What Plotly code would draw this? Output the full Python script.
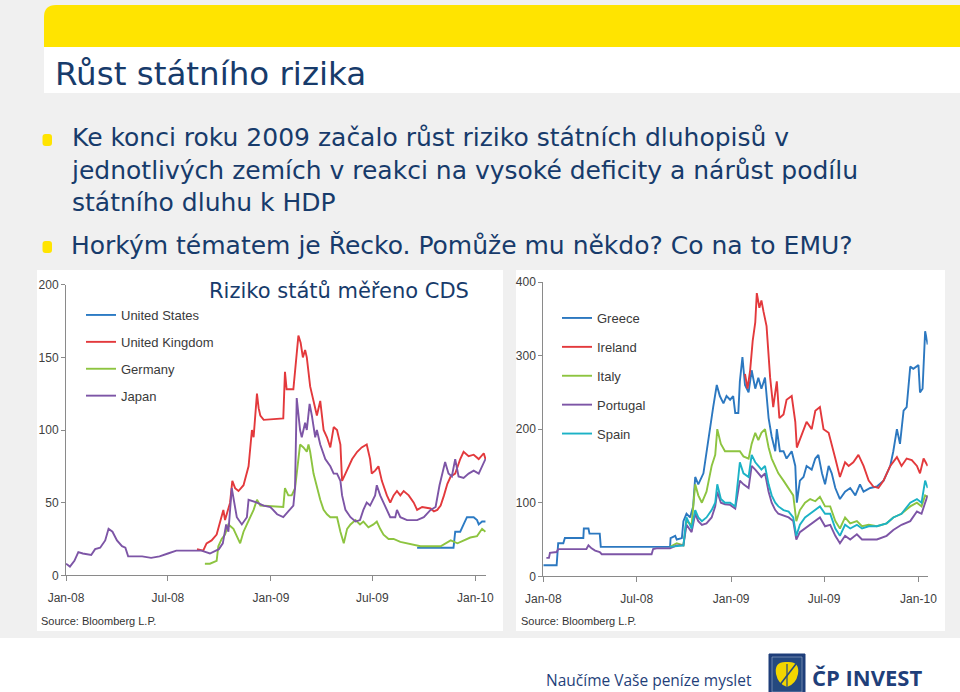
import plotly.graph_objects as go

W, H = 960, 692


def px(x):
    return x / W


def py(y):
    return 1 - y / H


# ---------------- data ----------------
TICK_DATES = ["2008-01-01", "2008-07-01", "2009-01-01", "2009-07-01", "2010-01-01"]
TICK_TEXT = ["Jan-08", "Jul-08", "Jan-09", "Jul-09", "Jan-10"]
LEFT_Y_TICKS = [0, 50, 100, 150, 200]
RIGHT_Y_TICKS = [0, 100, 200, 300, 400]

us_dates = ["2009-09-19", "2009-11-23", "2009-11-26", "2009-12-05", "2009-12-11",
            "2009-12-17", "2009-12-29", "2010-01-04", "2010-01-07", "2010-01-13",
            "2010-01-19"]
us_vals = [19, 19, 30, 30, 35,
           40, 40, 38, 35, 37,
           37]

uk_dates = ["2008-08-22", "2008-09-02", "2008-09-08", "2008-09-17", "2008-09-26",
            "2008-10-05", "2008-10-08", "2008-10-11", "2008-10-17", "2008-10-20",
            "2008-10-24", "2008-10-29", "2008-11-04", "2008-11-13", "2008-11-22",
            "2008-11-28", "2008-12-01", "2008-12-04", "2008-12-07", "2008-12-10",
            "2008-12-13", "2008-12-19", "2009-01-12", "2009-01-23", "2009-01-26",
            "2009-01-29", "2009-02-10", "2009-02-16", "2009-02-19", "2009-02-23",
            "2009-02-27", "2009-03-03", "2009-03-06", "2009-03-12", "2009-03-18",
            "2009-03-24", "2009-03-30", "2009-04-05", "2009-04-11", "2009-04-17",
            "2009-04-23", "2009-04-29", "2009-05-05", "2009-05-08", "2009-05-14",
            "2009-05-20", "2009-05-26", "2009-06-04", "2009-06-12", "2009-06-21",
            "2009-06-24", "2009-06-27", "2009-06-30", "2009-07-06", "2009-07-12",
            "2009-07-18", "2009-07-27", "2009-08-02", "2009-08-08", "2009-08-14",
            "2009-08-20", "2009-08-26", "2009-09-04", "2009-09-13", "2009-09-19",
            "2009-09-28", "2009-10-13", "2009-10-19", "2009-10-25", "2009-10-31",
            "2009-11-06", "2009-11-12", "2009-11-18", "2009-11-26", "2009-12-05",
            "2009-12-11", "2009-12-20", "2009-12-29", "2010-01-07", "2010-01-16",
            "2010-01-19"]
uk_vals = [18, 17, 22, 24, 28,
           40, 45, 38, 47, 50,
           65, 60, 58, 62, 75,
           100, 95, 110, 125, 115,
           110, 107, 108, 108, 140,
           128, 128, 150, 165, 160,
           150, 155, 150, 130, 120,
           110, 120, 100, 95, 88,
           102, 100, 90, 65, 70,
           75, 80, 85, 88, 90,
           85, 80, 70, 72, 75,
           65, 55, 50, 55, 58,
           55, 58, 55, 50, 45,
           47, 46, 44, 45, 48,
           55, 63, 68, 70, 80,
           85, 82, 83, 80, 84,
           80]

de_dates = ["2008-09-05", "2008-09-14", "2008-09-26", "2008-09-29", "2008-10-05",
            "2008-10-11", "2008-10-17", "2008-10-26", "2008-11-07", "2008-11-13",
            "2008-11-19", "2008-11-25", "2008-12-01", "2008-12-07", "2008-12-13",
            "2009-01-23", "2009-01-26", "2009-02-01", "2009-02-07", "2009-02-13",
            "2009-02-19", "2009-02-22", "2009-02-28", "2009-03-06", "2009-03-09",
            "2009-03-12", "2009-03-18", "2009-03-24", "2009-03-30", "2009-04-05",
            "2009-04-11", "2009-04-17", "2009-04-29", "2009-05-05", "2009-05-11",
            "2009-05-17", "2009-05-23", "2009-06-01", "2009-06-09", "2009-06-15",
            "2009-06-24", "2009-07-03", "2009-07-09", "2009-07-15", "2009-07-21",
            "2009-07-30", "2009-08-08", "2009-08-20", "2009-09-01", "2009-09-13",
            "2009-09-25", "2009-10-31", "2009-11-08", "2009-11-18", "2009-11-30",
            "2009-12-11", "2009-12-23", "2010-01-04", "2010-01-13", "2010-01-19"]
de_vals = [8, 8, 10, 20, 25,
           28, 35, 32, 22, 30,
           35, 40, 45, 52, 48,
           47, 60, 55, 55, 60,
           80, 90, 88, 85, 90,
           85, 70, 60, 52, 45,
           42, 40, 40, 30, 22,
           32, 35, 38, 35, 37,
           33, 35, 37, 32, 28,
           25, 25, 23, 22, 21,
           20, 20, 22, 24, 22,
           24, 26, 27, 32, 30]

jp_dates = ["2008-01-01", "2008-01-08", "2008-01-16", "2008-01-23", "2008-01-31",
            "2008-02-15", "2008-02-22", "2008-03-02", "2008-03-11", "2008-03-17",
            "2008-03-24", "2008-04-01", "2008-04-10", "2008-04-16", "2008-04-21",
            "2008-05-02", "2008-05-16", "2008-06-01", "2008-06-16", "2008-07-01",
            "2008-07-16", "2008-07-31", "2008-08-15", "2008-08-30", "2008-09-14",
            "2008-09-30", "2008-10-07", "2008-10-13", "2008-10-17", "2008-10-23",
            "2008-11-01", "2008-11-10", "2008-11-19", "2008-11-22", "2008-12-07",
            "2008-12-19", "2008-12-31", "2009-01-12", "2009-01-23", "2009-02-04",
            "2009-02-10", "2009-02-13", "2009-02-16", "2009-02-22", "2009-02-25",
            "2009-03-03", "2009-03-06", "2009-03-11", "2009-03-15", "2009-03-21",
            "2009-03-24", "2009-03-30", "2009-04-08", "2009-04-17", "2009-04-23",
            "2009-04-29", "2009-05-05", "2009-05-08", "2009-05-14", "2009-05-23",
            "2009-06-01", "2009-06-09", "2009-06-15", "2009-06-21", "2009-06-27",
            "2009-07-06", "2009-07-09", "2009-07-15", "2009-07-21", "2009-07-27",
            "2009-08-02", "2009-08-11", "2009-08-14", "2009-08-20", "2009-09-01",
            "2009-09-19", "2009-10-01", "2009-10-13", "2009-10-22", "2009-10-29",
            "2009-11-08", "2009-11-14", "2009-11-20", "2009-11-26", "2009-12-02",
            "2009-12-11", "2009-12-20", "2009-12-29", "2010-01-07", "2010-01-19"]
jp_vals = [8, 6, 10, 16, 15,
           14, 18, 19, 24, 32,
           30, 24, 20, 19, 13,
           13, 13, 12, 13, 15,
           17, 17, 17, 17, 15,
           18, 22, 35, 30, 60,
           40, 35, 40, 52, 50,
           48, 47, 42, 40, 45,
           48, 60, 122, 100, 95,
           105, 100, 118, 110, 95,
           100, 90, 80, 75, 70,
           70, 65, 55, 45, 40,
           37, 38, 45, 50, 48,
           55, 62, 55, 50, 45,
           40, 40, 45, 40, 38,
           38, 40, 45, 47, 62,
           78, 70, 68, 80, 68,
           67, 70, 72, 70, 80]

gr_dates = ["2008-01-01", "2008-01-27", "2008-01-30", "2008-02-09", "2008-02-12",
            "2008-03-19", "2008-03-20", "2008-03-29", "2008-03-31", "2008-04-20",
            "2008-04-22", "2008-09-04", "2008-09-05", "2008-09-14", "2008-09-17",
            "2008-09-27", "2008-09-30", "2008-10-06", "2008-10-13", "2008-10-19",
            "2008-10-23", "2008-10-29", "2008-11-08", "2008-11-14", "2008-11-21",
            "2008-11-27", "2008-12-04", "2008-12-10", "2008-12-17", "2008-12-23",
            "2008-12-30", "2009-01-05", "2009-01-09", "2009-01-15", "2009-01-18",
            "2009-01-23", "2009-01-28", "2009-02-04", "2009-02-10", "2009-02-17",
            "2009-02-23", "2009-03-01", "2009-03-08", "2009-03-15", "2009-03-21",
            "2009-03-28", "2009-03-31", "2009-04-06", "2009-04-13", "2009-04-19",
            "2009-04-29", "2009-05-06", "2009-05-09", "2009-05-15", "2009-05-22",
            "2009-05-28", "2009-06-07", "2009-06-14", "2009-06-20", "2009-06-27",
            "2009-07-03", "2009-07-10", "2009-07-16", "2009-07-23", "2009-08-01",
            "2009-08-11", "2009-08-21", "2009-08-31", "2009-09-09", "2009-09-16",
            "2009-09-29", "2009-10-12", "2009-10-25", "2009-11-07", "2009-11-13",
            "2009-11-20", "2009-11-26", "2009-12-03", "2009-12-09", "2009-12-16",
            "2009-12-22", "2010-01-01", "2010-01-04", "2010-01-09", "2010-01-14",
            "2010-01-19"]
gr_vals = [15, 15, 45, 45, 52,
           52, 65, 65, 58, 58,
           40, 40, 52, 55, 50,
           52, 75, 85, 80, 95,
           135, 125, 140, 170, 200,
           230, 260, 245, 235, 245,
           240, 245, 222, 222, 265,
           298, 260, 250, 280, 255,
           270, 255, 270, 215, 190,
           170, 200, 170, 170, 160,
           170, 150, 100, 130, 135,
           150, 145, 160, 165, 140,
           125, 150, 140, 120, 105,
           115, 120, 110, 125, 115,
           120, 122, 130, 150, 170,
           200, 180, 225, 230, 285,
           282, 287, 250, 255, 333,
           315]

ie_dates = ["2009-01-28", "2009-02-02", "2009-02-07", "2009-02-12", "2009-02-17",
            "2009-02-20", "2009-02-25", "2009-03-01", "2009-03-05", "2009-03-11",
            "2009-03-18", "2009-03-24", "2009-03-31", "2009-04-05", "2009-04-13",
            "2009-04-19", "2009-04-29", "2009-05-06", "2009-05-09", "2009-05-19",
            "2009-05-28", "2009-06-07", "2009-06-14", "2009-06-23", "2009-06-30",
            "2009-07-10", "2009-07-16", "2009-07-23", "2009-08-01", "2009-08-11",
            "2009-08-18", "2009-08-27", "2009-09-06", "2009-09-16", "2009-09-26",
            "2009-10-05", "2009-10-15", "2009-10-25", "2009-11-07", "2009-11-20",
            "2009-11-29", "2009-12-09", "2009-12-19", "2009-12-29", "2010-01-04",
            "2010-01-11", "2010-01-19"]
ie_vals = [275, 255, 280, 320, 345,
           385, 365, 375, 360, 340,
           270, 230, 265, 215, 220,
           240, 245, 210, 175, 195,
           210, 200, 225, 230, 200,
           195, 180, 160, 135, 155,
           150, 155, 165, 150, 130,
           122, 120, 130, 150, 162,
           150, 160, 158, 150, 140,
           160, 150]

it_dates = ["2008-09-04", "2008-09-17", "2008-09-30", "2008-10-06", "2008-10-16",
            "2008-10-23", "2008-10-29", "2008-11-05", "2008-11-14", "2008-11-24",
            "2008-12-01", "2008-12-05", "2008-12-12", "2008-12-20", "2008-12-30",
            "2009-01-18", "2009-01-25", "2009-02-04", "2009-02-10", "2009-02-17",
            "2009-02-23", "2009-03-01", "2009-03-08", "2009-03-15", "2009-03-21",
            "2009-03-28", "2009-04-03", "2009-04-13", "2009-04-23", "2009-05-02",
            "2009-05-08", "2009-05-15", "2009-05-25", "2009-06-04", "2009-06-14",
            "2009-06-23", "2009-07-03", "2009-07-13", "2009-07-23", "2009-08-01",
            "2009-08-11", "2009-08-21", "2009-09-03", "2009-09-13", "2009-09-26",
            "2009-10-12", "2009-10-31", "2009-11-13", "2009-11-29", "2009-12-16",
            "2009-12-29", "2010-01-07", "2010-01-14", "2010-01-19"]
it_vals = [40, 45, 42, 75, 70,
           125, 110, 100, 115, 150,
           165, 200, 180, 170, 170,
           170, 163, 160, 180, 195,
           185, 195, 200, 175, 160,
           150, 140, 130, 120, 110,
           75, 90, 100, 105, 102,
           108, 95, 95, 75, 65,
           80, 72, 75, 68, 70,
           68, 72, 80, 85, 95,
           100, 95, 110, 108]

pt_dates = ["2008-01-07", "2008-01-12", "2008-01-14", "2008-01-27", "2008-01-30",
            "2008-03-25", "2008-03-29", "2008-04-04", "2008-04-11", "2008-04-20",
            "2008-04-24", "2008-07-30", "2008-08-02", "2008-08-09", "2008-09-04",
            "2008-09-17", "2008-09-30", "2008-10-06", "2008-10-16", "2008-10-23",
            "2008-10-29", "2008-11-05", "2008-11-14", "2008-11-24", "2008-12-01",
            "2008-12-05", "2008-12-12", "2008-12-20", "2008-12-30", "2009-01-09",
            "2009-01-18", "2009-01-25", "2009-02-04", "2009-02-10", "2009-02-17",
            "2009-02-23", "2009-03-01", "2009-03-08", "2009-03-15", "2009-03-21",
            "2009-03-28", "2009-04-03", "2009-04-13", "2009-04-23", "2009-05-02",
            "2009-05-08", "2009-05-15", "2009-05-25", "2009-06-04", "2009-06-14",
            "2009-06-23", "2009-07-03", "2009-07-13", "2009-07-23", "2009-08-01",
            "2009-08-11", "2009-08-21", "2009-09-03", "2009-09-13", "2009-09-26",
            "2009-10-12", "2009-10-31", "2009-11-13", "2009-11-29", "2009-12-16",
            "2009-12-29", "2010-01-07", "2010-01-14", "2010-01-19"]
pt_vals = [25, 25, 32, 33, 37,
           37, 42, 38, 35, 33,
           30, 30, 37, 38, 38,
           42, 42, 70, 60, 85,
           75, 70, 72, 80, 95,
           115, 100, 98, 97, 92,
           130, 125, 120, 150, 145,
           140, 135, 140, 115, 100,
           90, 85, 82, 80, 75,
           50, 60, 65, 70, 75,
           80, 68, 70, 55, 45,
           55, 50, 57, 50, 50,
           50, 55, 63, 70, 75,
           88, 85, 100, 110]

es_dates = ["2008-09-04", "2008-09-30", "2008-10-06", "2008-10-16", "2008-10-23",
            "2008-10-29", "2008-11-05", "2008-11-14", "2008-11-24", "2008-12-01",
            "2008-12-05", "2008-12-12", "2008-12-20", "2008-12-30", "2009-01-09",
            "2009-01-18", "2009-01-25", "2009-02-04", "2009-02-10", "2009-02-17",
            "2009-02-23", "2009-03-01", "2009-03-08", "2009-03-15", "2009-03-21",
            "2009-03-28", "2009-04-03", "2009-04-13", "2009-04-23", "2009-05-02",
            "2009-05-08", "2009-05-15", "2009-05-25", "2009-06-04", "2009-06-14",
            "2009-06-23", "2009-07-03", "2009-07-13", "2009-07-23", "2009-08-01",
            "2009-08-11", "2009-08-21", "2009-09-03", "2009-09-13", "2009-09-26",
            "2009-10-12", "2009-10-31", "2009-11-13", "2009-11-29", "2009-12-16",
            "2009-12-29", "2010-01-07", "2010-01-14", "2010-01-19"]
es_vals = [40, 42, 80, 65, 90,
           80, 75, 80, 90, 100,
           125, 105, 100, 100, 95,
           155, 140, 135, 165, 155,
           150, 145, 150, 125, 110,
           100, 95, 90, 88, 80,
           55, 70, 80, 85, 90,
           95, 85, 85, 65, 55,
           70, 65, 70, 65, 68,
           68, 72, 80, 85, 100,
           105, 100, 130, 120]

LEFT_SERIES = [
    ("United States", us_dates, us_vals, "#2C7BC4"),
    ("United Kingdom", uk_dates, uk_vals, "#E3393C"),
    ("Germany", de_dates, de_vals, "#8DC440"),
    ("Japan", jp_dates, jp_vals, "#7D55A6"),
]
RIGHT_SERIES = [
    ("Greece", gr_dates, gr_vals, "#2C78C0"),
    ("Ireland", ie_dates, ie_vals, "#E3393C"),
    ("Italy", it_dates, it_vals, "#8DC440"),
    ("Portugal", pt_dates, pt_vals, "#7D55A6"),
    ("Spain", es_dates, es_vals, "#1CB2C6"),
]

# ---------------- styles ----------------
NAVY = "#173B6B"
AXIS_GREY = "#8A8A8A"
SMALL = "Liberation Sans Narrow, Liberation Sans, Arial, sans-serif"
BODY = "DejaVu Sans, Liberation Sans, sans-serif"

fig = go.Figure()

for name, d, v, c in LEFT_SERIES:
    fig.add_trace(go.Scatter(x=d, y=v, name=name, mode="lines", line=dict(color=c, width=1.9),
                             xaxis="x", yaxis="y", legend="legend", legendgroup=name,
                             hoverinfo="skip"))
for name, d, v, c in RIGHT_SERIES:
    fig.add_trace(go.Scatter(x=d, y=v, name=name, mode="lines", line=dict(color=c, width=1.9),
                             xaxis="x2", yaxis="y2", legend="legend2", legendgroup=name,
                             hoverinfo="skip"))

axis_common = dict(showline=True, linecolor=AXIS_GREY, linewidth=1, ticks="outside",
                   tickcolor=AXIS_GREY, showgrid=False, zeroline=False, automargin=False,
                   tickfont=dict(family=SMALL, size=12, color="#404040"))

fig.update_layout(
    width=W, height=H, autosize=False,
    margin=dict(l=0, r=0, t=0, b=0, pad=0, autoexpand=False),
    paper_bgcolor="#F0F0F0",
    plot_bgcolor="rgba(0,0,0,0)",
    xaxis=dict(domain=[px(66), px(486)], type="date", range=["2008-01-01", "2010-01-20"],
               tickvals=TICK_DATES, ticktext=TICK_TEXT, ticklen=5, ticklabelstandoff=6,
               anchor="y", **axis_common),
    yaxis=dict(domain=[py(575.3), py(284.7)], range=[0, 200], tickvals=LEFT_Y_TICKS,
               ticklen=4, anchor="x", **axis_common),
    xaxis2=dict(domain=[px(543.3), px(927.7)], type="date", range=["2008-01-01", "2010-01-19"],
                tickvals=TICK_DATES, ticktext=TICK_TEXT, ticklen=5, ticklabelstandoff=6,
                anchor="y2", **axis_common),
    yaxis2=dict(domain=[py(576.3), py(282)], range=[0, 400], tickvals=RIGHT_Y_TICKS,
                ticklen=4, anchor="x2", **axis_common),
    legend=dict(x=px(81), y=py(300), xanchor="left", yanchor="top", bgcolor="rgba(0,0,0,0)",
                font=dict(family=SMALL, size=13, color="#3A3A3A"), itemwidth=30,
                traceorder="grouped", tracegroupgap=7),
    legend2=dict(x=px(557), y=py(303), xanchor="left", yanchor="top", bgcolor="rgba(0,0,0,0)",
                 font=dict(family=SMALL, size=13, color="#3A3A3A"), itemwidth=30,
                 traceorder="grouped", tracegroupgap=9),
    showlegend=True,
)

shapes = []
# top yellow banner with rounded top-left corner
r = 12
banner = (f"M {px(44)},{py(47)} L {px(44)},{py(5 + r)} Q {px(44)},{py(5)} {px(44 + r)},{py(5)} "
          f"L {px(960)},{py(5)} L {px(960)},{py(47)} Z")
shapes.append(dict(type="path", path=banner, xref="paper", yref="paper",
                   fillcolor="#FFE400", line=dict(width=0), layer="below"))
# white title strip
shapes.append(dict(type="rect", xref="paper", yref="paper", x0=px(44), x1=px(960),
                   y0=py(93), y1=py(47), fillcolor="white", line=dict(width=0), layer="below"))
# chart boxes
for x0, x1 in [(37, 503), (516, 945)]:
    shapes.append(dict(type="rect", xref="paper", yref="paper", x0=px(x0), x1=px(x1),
                       y0=py(631), y1=py(270), fillcolor="white", line=dict(width=0), layer="below"))
# bottom white band
shapes.append(dict(type="rect", xref="paper", yref="paper", x0=0, x1=1,
                   y0=0, y1=py(638), fillcolor="white", line=dict(width=0), layer="below"))


def rounded(x0, y0, x1, y1, rr):
    return (f"M {px(x0 + rr)},{py(y0)} L {px(x1 - rr)},{py(y0)} Q {px(x1)},{py(y0)} {px(x1)},{py(y0 + rr)} "
            f"L {px(x1)},{py(y1 - rr)} Q {px(x1)},{py(y1)} {px(x1 - rr)},{py(y1)} "
            f"L {px(x0 + rr)},{py(y1)} Q {px(x0)},{py(y1)} {px(x0)},{py(y1 - rr)} "
            f"L {px(x0)},{py(y0 + rr)} Q {px(x0)},{py(y0)} {px(x0 + rr)},{py(y0)} Z")


for cy in [140, 247]:
    shapes.append(dict(type="path", path=rounded(42.5, cy - 6, 52, cy + 6, 3), xref="paper",
                       yref="paper", fillcolor="#FFE400", line=dict(width=0)))

# logo
shapes.append(dict(type="rect", xref="paper", yref="paper", x0=px(769), x1=px(805),
                   y0=py(692), y1=py(654), fillcolor="#1F3F7A", line=dict(color="#1F3F7A", width=1)))
shapes.append(dict(type="rect", xref="paper", yref="paper", x0=px(772), x1=px(802),
                   y0=py(692), y1=py(657), fillcolor="#25497F", line=dict(color="#9FB0CC", width=0.6)))
leaf = (f"M {px(787)},{py(662)} Q {px(800)},{py(661)} {px(798)},{py(674)} "
        f"Q {px(796)},{py(684)} {px(787)},{py(687)} Q {px(778)},{py(684)} {px(776)},{py(674)} "
        f"Q {px(774)},{py(661)} {px(787)},{py(662)} Z")
shapes.append(dict(type="path", path=leaf, xref="paper", yref="paper",
                   fillcolor="#F2D500", line=dict(width=0)))
shapes.append(dict(type="line", xref="paper", yref="paper", x0=px(779), y0=py(686),
                   x1=px(796), y1=py(664), line=dict(color="#25497F", width=1.6)))
shapes.append(dict(type="line", xref="paper", yref="paper", x0=px(787), y0=py(664),
                   x1=px(787), y1=py(690), line=dict(color="#25497F", width=1.2)))

fig.update_layout(shapes=shapes)

ann = []
ann.append(dict(text="Růst státního rizika", x=px(53), y=py(74), xref="paper", yref="paper",
                xanchor="left", yanchor="middle", showarrow=False,
                font=dict(family=BODY, size=32.5, color=NAVY)))
ann.append(dict(text=("Ke konci roku 2009 začalo růst riziko státních dluhopisů v<br>"
                      "jednotlivých zemích v reakci na vysoké deficity a nárůst podílu<br>"
                      "státního dluhu k HDP"),
                x=px(69), y=py(170), xref="paper", yref="paper", xanchor="left", yanchor="middle",
                align="left", showarrow=False, font=dict(family=BODY, size=25, color=NAVY)))
ann.append(dict(text="Horkým tématem je Řecko. Pomůže mu někdo? Co na to EMU?",
                x=px(69), y=py(245), xref="paper", yref="paper", xanchor="left", yanchor="middle",
                align="left", showarrow=False, font=dict(family=BODY, size=25, color=NAVY)))
ann.append(dict(text="Riziko států měřeno CDS", x=px(339), y=py(291), xref="paper", yref="paper",
                xanchor="center", yanchor="middle", showarrow=False,
                font=dict(family=BODY, size=21, color=NAVY)))
for sx in [39, 519]:
    ann.append(dict(text="Source: Bloomberg L.P.", x=px(sx), y=py(621), xref="paper", yref="paper",
                    xanchor="left", yanchor="middle", showarrow=False,
                    font=dict(family=SMALL, size=11, color="#333333")))
ann.append(dict(text="Naučíme Vaše peníze myslet", x=px(544), y=py(680), xref="paper", yref="paper",
                xanchor="left", yanchor="middle", showarrow=False,
                font=dict(family="Open Sans, sans-serif", size=15.5, color="#1F3F7A")))
ann.append(dict(text="<b>ČP INVEST</b>", x=px(810), y=py(677), xref="paper", yref="paper",
                xanchor="left", yanchor="middle", showarrow=False,
                font=dict(family="Open Sans, sans-serif", size=22, color="#1F3F7A")))
fig.update_layout(annotations=ann)

fig.write_html(
    "out.html",
    config={"displayModeBar": False, "staticPlot": True},
    post_script=("document.body.style.margin='0';document.body.style.padding='0';"
                 "document.documentElement.style.overflow='hidden';"),
)
